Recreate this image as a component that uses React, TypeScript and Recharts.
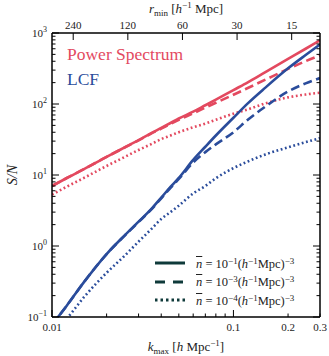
import { LineChart, Line, XAxis, YAxis } from "recharts";

const K = [0.01, 0.012, 0.015, 0.02, 0.025, 0.03, 0.035, 0.04, 0.045, 0.05, 0.06, 0.07, 0.08, 0.1, 0.12, 0.15, 0.2, 0.25, 0.3];

// power spectrum S/N, three number densities
const PS_SOLID = [7.0, 9.0, 12.1, 18, 24.3, 31, 38.5, 46, 54, 62.5, 78, 96, 115, 157, 202, 282, 432, 600, 790];
const PS_DASHED = [7.0, 9.0, 12.1, 18, 24.2, 30.8, 38, 45, 52.5, 60, 74, 89, 104, 135, 168, 220, 312, 402, 485];
const PS_DOTTED = [5.3, 6.8, 9.1, 13.4, 17.8, 22.5, 27, 32, 36, 40, 47, 53, 60, 73, 84, 102, 124, 136, 144];

// LCF S/N
const LCF_SOLID = [0.078, 0.142, 0.31, 0.77, 1.39, 2.2, 3.25, 4.8, 6.8, 9.1, 16.3, 25, 36, 64, 102, 170, 318, 490, 690];
const LCF_DASHED = [0.078, 0.142, 0.31, 0.77, 1.38, 2.18, 3.2, 4.7, 6.6, 8.8, 15, 21, 27, 40, 60, 92, 150, 195, 232];
const LCF_DOTTED = [0.055, 0.093, 0.19, 0.42, 0.72, 1.15, 1.7, 2.4, 3.0, 3.7, 5.5, 7.0, 9.0, 12.5, 15.5, 19.5, 24.5, 29, 33];

const X_TICKS = [0.01, 0.02, 0.03, 0.04, 0.05, 0.06, 0.07, 0.08, 0.09, 0.1, 0.2, 0.3];
const X_MAJOR = [0.01, 0.1];
const X_LABELS = [0.01, 0.1, 0.2, 0.3];

const R_MIN = [240, 120, 60, 30, 15];

const Y_MAJOR = [0.1, 1, 10, 100, 1000];
const Y_EXP = ["\u22121", "0", "1", "2", "3"];
const Y_MINOR_STEPS = [2, 3, 4, 5, 6, 7, 8, 9];

const LEGEND_EXP = ["\u22121", "\u22123", "\u22124"];
const LEGEND_DASH = ["", "10 8", "2.5 3"];

const RED = "#e3495f";
const BLUE = "#2a4c9b";
const DARK = "#0f3a3a";
const FONT = "'Liberation Serif', serif";

const rows = K.map((k, i) => ({
  k,
  psSolid: PS_SOLID[i],
  psDashed: PS_DASHED[i],
  psDotted: PS_DOTTED[i],
  lcfSolid: LCF_SOLID[i],
  lcfDashed: LCF_DASHED[i],
  lcfDotted: LCF_DOTTED[i],
}));

const yTicks = Y_MAJOR.slice(0, -1)
  .flatMap((d) => [d, ...Y_MINOR_STEPS.map((s) => +(d * s).toPrecision(3))])
  .concat([1000]);
const topTicks = R_MIN.map((r) => Math.PI / r);

const near = (a: number, list: number[]) => list.some((v) => Math.abs(v - a) / v < 1e-6);

function BottomTick(props: any) {
  const { x, y, payload } = props;
  const v = payload.value;
  const len = near(v, X_MAJOR) ? 7 : 3.5;
  return (
    <g>
      <line x1={x} x2={x} y1={y} y2={y - len} stroke="#000" strokeWidth={1} />
      {near(v, X_LABELS) && (
        <text x={x} y={y + 14} textAnchor="middle" fontSize={11} fontFamily={FONT} fill="#222">
          {String(v)}
        </text>
      )}
    </g>
  );
}

function TopTick(props: any) {
  const { x, y, index } = props;
  return (
    <g>
      <line x1={x} x2={x} y1={y} y2={y + 7} stroke="#000" strokeWidth={1} />
      <text x={x} y={y - 4} textAnchor="middle" fontSize={11} fontFamily={FONT} fill="#222">
        {R_MIN[index]}
      </text>
    </g>
  );
}

function LeftTick(props: any) {
  const { x, y, payload } = props;
  const v = payload.value;
  const mi = Y_MAJOR.findIndex((m) => Math.abs(m - v) / m < 1e-6);
  const len = mi >= 0 ? 7 : 3.5;
  return (
    <g>
      <line x1={x} x2={x + len} y1={y} y2={y} stroke="#000" strokeWidth={1} />
      {mi >= 0 && (
        <text x={x - 5} y={y + 4} textAnchor="end" fontSize={11} fontFamily={FONT} fill="#222">
          10
          <tspan fontSize={8} dy={-5}>
            {Y_EXP[mi]}
          </tspan>
        </text>
      )}
    </g>
  );
}

function RightTick(props: any) {
  const { x, y, payload } = props;
  const v = payload.value;
  const len = near(v, Y_MAJOR) ? 7 : 3.5;
  return <line x1={x} x2={x - len} y1={y} y2={y} stroke="#000" strokeWidth={1} />;
}

function BottomLabel(props: any) {
  const vb = props.viewBox;
  return (
    <text x={vb.x + vb.width / 2} y={vb.y + 34} textAnchor="middle" fontSize={13} fontFamily={FONT} fill="#222">
      <tspan fontStyle="italic">k</tspan>
      <tspan fontSize={9} dy={3}>max</tspan>
      <tspan dy={-3}> [</tspan>
      <tspan fontStyle="italic">h</tspan>
      <tspan> Mpc</tspan>
      <tspan fontSize={9} dy={-5}>{"\u22121"}</tspan>
      <tspan dy={5}>]</tspan>
    </text>
  );
}

function TopLabel(props: any) {
  const vb = props.viewBox;
  return (
    <text x={vb.x + vb.width / 2} y={vb.y + vb.height - 20} textAnchor="middle" fontSize={13} fontFamily={FONT} fill="#222">
      <tspan fontStyle="italic">r</tspan>
      <tspan fontSize={9} dy={3}>min</tspan>
      <tspan dy={-3}> [</tspan>
      <tspan fontStyle="italic">h</tspan>
      <tspan fontSize={9} dy={-5}>{"\u22121"}</tspan>
      <tspan dy={5}> Mpc]</tspan>
    </text>
  );
}

function LeftLabel(props: any) {
  const vb = props.viewBox;
  const cx = vb.x + vb.width - 35;
  const cy = vb.y + vb.height / 2;
  return (
    <text x={cx} y={cy} transform={`rotate(-90, ${cx}, ${cy})`} textAnchor="middle" fontSize={14} fontFamily={FONT} fontStyle="italic" fill="#222">
      S/N
    </text>
  );
}

function LegendBox() {
  const sup = { fontSize: 9, verticalAlign: "4px" } as const;
  return (
    <div style={{ position: "absolute", left: 152, top: 254, fontFamily: FONT, fontSize: 12.5, color: "#222", lineHeight: 1 }}>
      {LEGEND_EXP.map((e, i) => (
        <div key={e} style={{ display: "flex", alignItems: "center", height: 18.5 }}>
          <svg width={36} height={10} style={{ marginRight: 8 }}>
            <line x1={3} x2={33} y1={5} y2={5} stroke={DARK} strokeWidth={3} strokeDasharray={LEGEND_DASH[i] || undefined} />
          </svg>
          <span style={{ whiteSpace: "nowrap" }}>
            <span style={{ fontStyle: "italic", textDecoration: "overline" }}>n</span>
            {" = 10"}
            <span style={sup}>{e}</span>(<i>h</i>
            <span style={sup}>{"\u22121"}</span>Mpc)
            <span style={sup}>{"\u22123"}</span>
          </span>
        </div>
      ))}
    </div>
  );
}

export default function App() {
  const axisLine = { stroke: "#000", strokeWidth: 1.5 };
  const dots = "1.8 2.6";
  return (
    <div style={{ position: "absolute", left: 0, top: 0, width: 329, height: 356, background: "#fff" }}>
      <LineChart width={329} height={356} data={rows} margin={{ top: 32, right: 8, bottom: 38, left: 51 }}>
        <XAxis
          xAxisId="b"
          dataKey="k"
          type="number"
          scale="log"
          domain={[0.01, 0.3]}
          allowDataOverflow
          ticks={X_TICKS}
          interval={0}
          tickSize={0}
          tickMargin={0}
          tickLine={false}
          tick={<BottomTick />}
          axisLine={axisLine}
          height={1}
          label={<BottomLabel />}
        />
        <XAxis
          xAxisId="t"
          orientation="top"
          dataKey="k"
          type="number"
          scale="log"
          domain={[0.01, 0.3]}
          allowDataOverflow
          ticks={topTicks}
          interval={0}
          tickSize={0}
          tickMargin={0}
          tickLine={false}
          tick={<TopTick />}
          axisLine={axisLine}
          height={1}
          label={<TopLabel />}
        />
        <YAxis
          yAxisId="l"
          type="number"
          scale="log"
          domain={[0.1, 1000]}
          allowDataOverflow
          ticks={yTicks}
          interval={0}
          tickSize={0}
          tickMargin={0}
          tickLine={false}
          tick={<LeftTick />}
          axisLine={axisLine}
          width={1}
          label={<LeftLabel />}
        />
        <YAxis
          yAxisId="r"
          orientation="right"
          type="number"
          scale="log"
          domain={[0.1, 1000]}
          allowDataOverflow
          ticks={yTicks}
          interval={0}
          tickSize={0}
          tickMargin={0}
          tickLine={false}
          tick={<RightTick />}
          axisLine={axisLine}
          width={1}
        />
        <Line xAxisId="b" yAxisId="l" dataKey="psSolid" type="monotone" stroke={RED} strokeWidth={2.6} dot={false} isAnimationActive={false} />
        <Line xAxisId="b" yAxisId="l" dataKey="psDashed" type="monotone" stroke={RED} strokeWidth={2.6} strokeDasharray="9 4.5" dot={false} isAnimationActive={false} />
        <Line xAxisId="b" yAxisId="l" dataKey="psDotted" type="monotone" stroke={RED} strokeWidth={2.6} strokeDasharray={dots} dot={false} isAnimationActive={false} />
        <Line xAxisId="b" yAxisId="l" dataKey="lcfSolid" type="monotone" stroke={BLUE} strokeWidth={2.6} dot={false} isAnimationActive={false} />
        <Line xAxisId="b" yAxisId="l" dataKey="lcfDashed" type="monotone" stroke={BLUE} strokeWidth={2.6} strokeDasharray="9 4.5" dot={false} isAnimationActive={false} />
        <Line xAxisId="b" yAxisId="l" dataKey="lcfDotted" type="monotone" stroke={BLUE} strokeWidth={2.6} strokeDasharray={dots} dot={false} isAnimationActive={false} />
      </LineChart>
      <div style={{ position: "absolute", left: 67, top: 44, fontFamily: FONT, fontSize: 17.5, color: RED, whiteSpace: "nowrap" }}>Power Spectrum</div>
      <div style={{ position: "absolute", left: 67, top: 69, fontFamily: FONT, fontSize: 17.5, color: BLUE }}>LCF</div>
      <LegendBox />
    </div>
  );
}
